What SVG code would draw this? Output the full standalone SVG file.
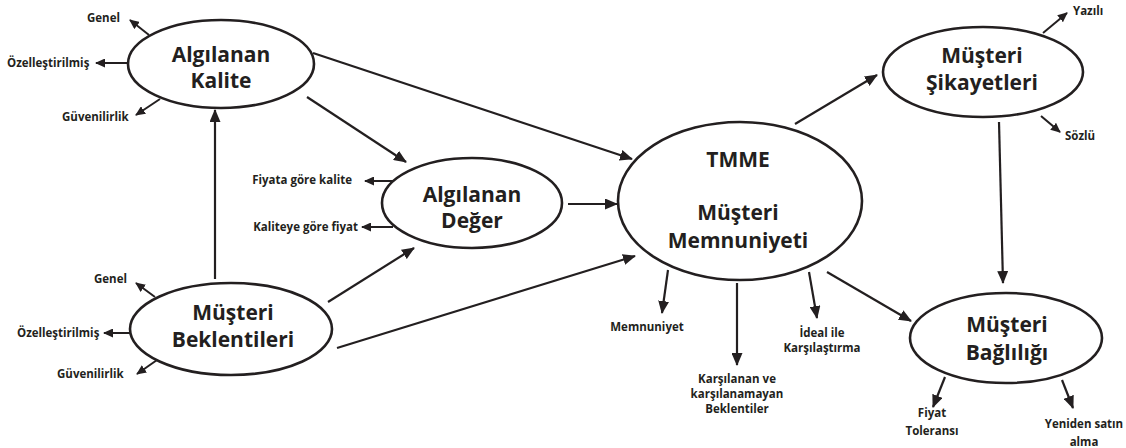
<svg xmlns="http://www.w3.org/2000/svg" width="1126" height="448" viewBox="0 0 1126 448">
<defs>
<marker id="ah" markerUnits="userSpaceOnUse" markerWidth="13" markerHeight="11" refX="12" refY="5.5" orient="auto"><path d="M0,0 L13,5.5 L0,11 z" fill="#231f20"/></marker>
<marker id="as" markerUnits="userSpaceOnUse" markerWidth="10" markerHeight="9" refX="9" refY="4.5" orient="auto"><path d="M0,0 L10,4.5 L0,9 z" fill="#231f20"/></marker>
</defs>
<style>
.n{fill:#fff;stroke:#231f20;stroke-width:2.6}
.t{font-family:"Open Sans","Liberation Sans",sans-serif;font-weight:bold;font-size:21px;fill:#231f20;text-anchor:middle}
.s{font-family:"Open Sans","Liberation Sans",sans-serif;font-weight:bold;font-size:11.5px;fill:#231f20}
.m{text-anchor:middle}
.e{text-anchor:end}
.c{stroke:#231f20;stroke-width:2.2;fill:none;marker-end:url(#ah)}
.d{stroke:#231f20;stroke-width:2;fill:none;marker-end:url(#as)}
</style>
<rect width="1126" height="448" fill="#fff"/>
<g id="connectors">
<line class="c" x1="215" y1="279" x2="215" y2="110"/>
<line class="c" x1="307" y1="97" x2="406" y2="162"/>
<line class="c" x1="313" y1="53" x2="632" y2="159"/>
<line class="c" x1="328" y1="302" x2="414" y2="248"/>
<line class="c" x1="337" y1="348" x2="635" y2="256"/>
<line class="c" x1="568" y1="204" x2="617" y2="204"/>
<line class="c" x1="795" y1="124" x2="877" y2="75"/>
<line class="c" x1="999" y1="122" x2="1003" y2="283"/>
<line class="c" x1="827" y1="272" x2="911" y2="321"/>
<line class="c" x1="668" y1="270" x2="662" y2="313"/>
<line class="c" x1="737" y1="283" x2="737" y2="365"/>
<line class="c" x1="809" y1="272" x2="817" y2="318"/>
<line class="c" x1="945" y1="377" x2="933" y2="407"/>
<line class="c" x1="1062" y1="380" x2="1073" y2="408"/>
<line class="d" x1="149" y1="35" x2="130" y2="20"/>
<line class="d" x1="128" y1="63" x2="96" y2="63"/>
<line class="d" x1="160" y1="99" x2="136" y2="115"/>
<line class="d" x1="155" y1="297" x2="136" y2="283"/>
<line class="d" x1="131" y1="333" x2="104" y2="333"/>
<line class="d" x1="157" y1="360" x2="137" y2="374"/>
<line class="d" x1="395" y1="181" x2="365" y2="181"/>
<line class="d" x1="393" y1="227" x2="362" y2="227"/>
<line class="d" x1="1043" y1="33" x2="1067" y2="13"/>
<line class="d" x1="1041" y1="116" x2="1060" y2="132"/>
</g>
<g id="algilanan-kalite">
<ellipse class="n" cx="221" cy="64" rx="93" ry="44"/>
<text class="t" x="221" y="62">Algılanan</text>
<text class="t" x="221" y="88">Kalite</text>
<text class="s" x="87" y="22">Genel</text>
<text class="s" x="7" y="67">Özelleştirilmiş</text>
<text class="s" x="62" y="121">Güvenilirlik</text>
</g>
<g id="musteri-beklentileri">
<ellipse class="n" cx="231" cy="329" rx="101" ry="46"/>
<text class="t" x="233" y="320">Müşteri</text>
<text class="t" x="233" y="347">Beklentileri</text>
<text class="s" x="94" y="283">Genel</text>
<text class="s" x="17" y="337">Özelleştirilmiş</text>
<text class="s" x="57" y="378">Güvenilirlik</text>
</g>
<g id="algilanan-deger">
<ellipse class="n" cx="472" cy="203" rx="90" ry="45"/>
<text class="t" x="472" y="202">Algılanan</text>
<text class="t" x="472" y="228">Değer</text>
<text class="s e" x="352" y="184">Fiyata göre kalite</text>
<text class="s e" x="358" y="231">Kaliteye göre fiyat</text>
</g>
<g id="tmme">
<ellipse class="n" cx="740" cy="201" rx="122" ry="79"/>
<text class="t" x="738" y="167">TMME</text>
<text class="t" x="738" y="220">Müşteri</text>
<text class="t" x="738" y="248">Memnuniyeti</text>
<text class="s m" x="647" y="331">Memnuniyet</text>
<text class="s m" x="737" y="383">Karşılanan ve</text>
<text class="s m" x="737" y="398">karşılanamayan</text>
<text class="s m" x="737" y="413">Beklentiler</text>
<text class="s m" x="822" y="337">İdeal ile</text>
<text class="s m" x="822" y="352">Karşılaştırma</text>
</g>
<g id="musteri-sikayetleri">
<ellipse class="n" cx="983" cy="72" rx="100" ry="45"/>
<text class="t" x="982" y="63">Müşteri</text>
<text class="t" x="982" y="90">Şikayetleri</text>
<text class="s" x="1073" y="15">Yazılı</text>
<text class="s" x="1065" y="140">Sözlü</text>
</g>
<g id="musteri-bagliligi">
<ellipse class="n" cx="1006" cy="338" rx="96" ry="45"/>
<text class="t" x="1007" y="332">Müşteri</text>
<text class="t" x="1007" y="360">Bağlılığı</text>
<text class="s m" x="932" y="417">Fiyat</text>
<text class="s m" x="932" y="435">Toleransı</text>
<text class="s m" x="1084" y="428">Yeniden satın</text>
<text class="s m" x="1084" y="446">alma</text>
</g>
</svg>
